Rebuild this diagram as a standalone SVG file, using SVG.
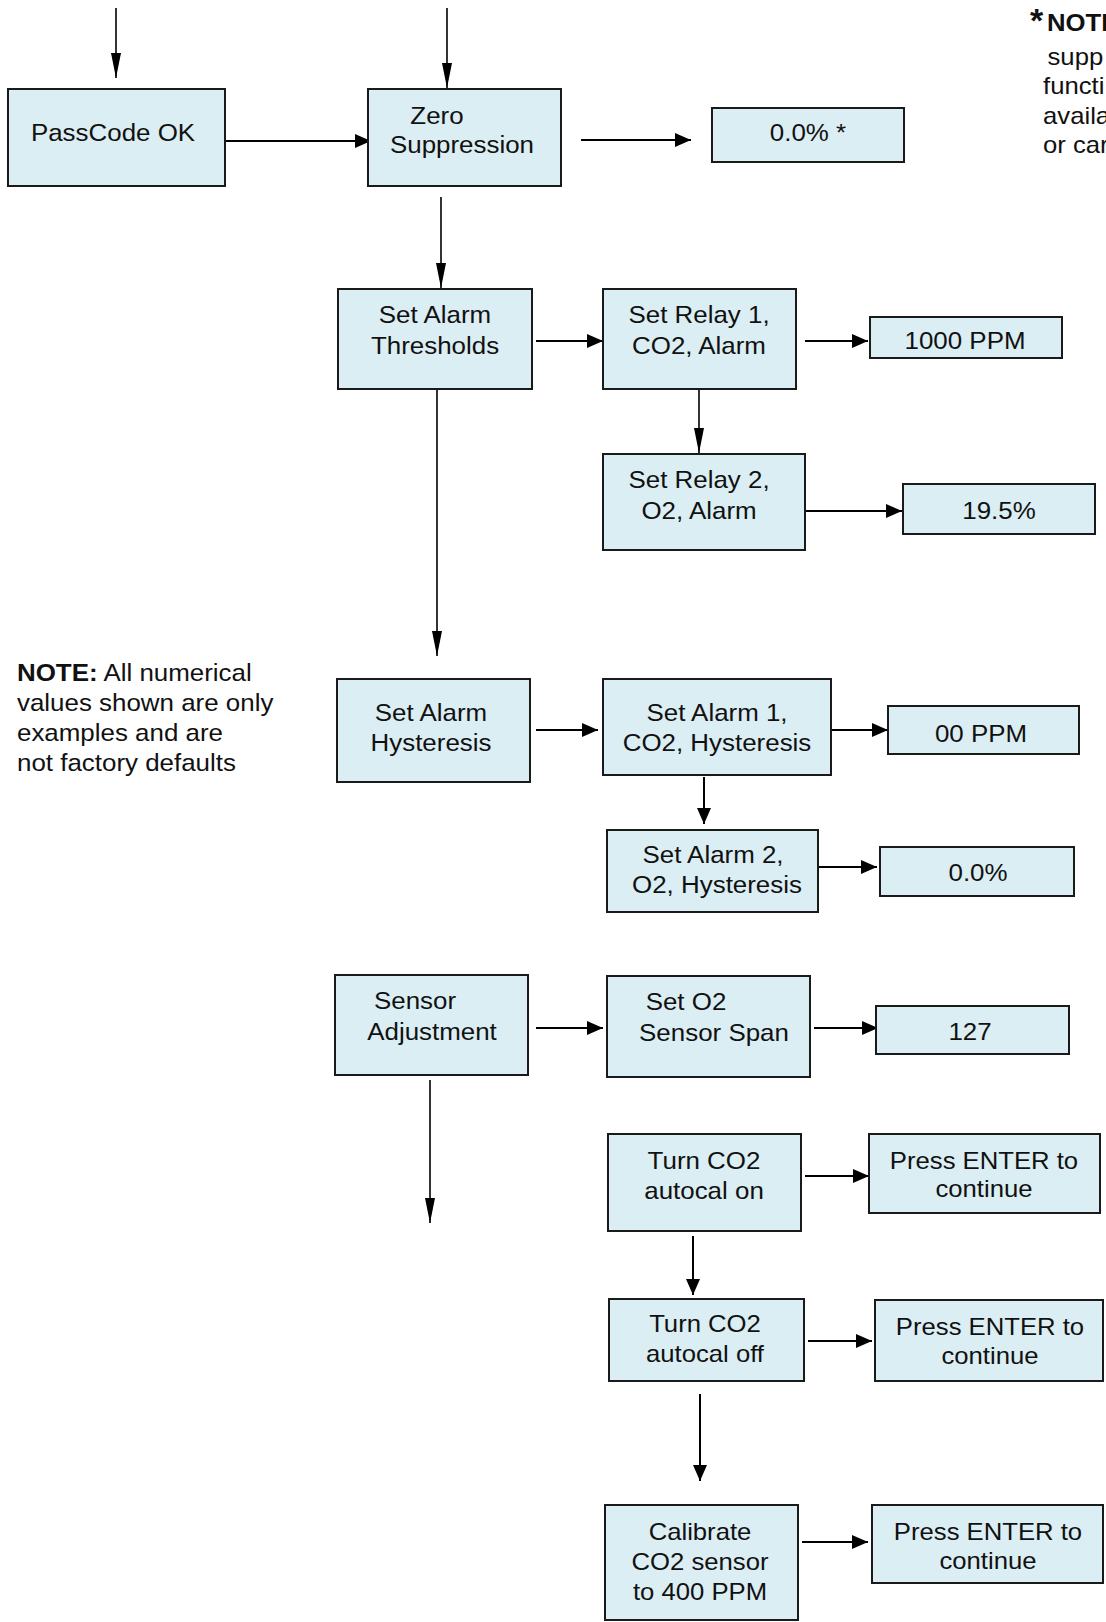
<svg xmlns="http://www.w3.org/2000/svg" width="1106" height="1622" viewBox="0 0 1106 1622">
<style>
.box{fill:#DBEEF3;stroke:#1a1a1a;stroke-width:2}
.t{font-family:"Liberation Sans",Arial,Helvetica,sans-serif;font-size:24px;fill:#111;text-anchor:middle}
.ts{font-family:"Liberation Sans",Arial,Helvetica,sans-serif;font-size:24px;fill:#111;text-anchor:start}
.c{stroke:#000;stroke-width:2;fill:none}
.cl{stroke:#000;stroke-width:1.6;fill:none;marker-end:url(#ahL)}
.cs{stroke:#000;stroke-width:2;fill:none;marker-end:url(#ahS)}
</style>
<defs>
<marker id="ahL" markerUnits="userSpaceOnUse" markerWidth="26" markerHeight="12" refX="25" refY="5.5" orient="auto" viewBox="0 0 26 12">
<path d="M0,0.5 L25,5.5 L0,10.5 z" fill="#000"/>
</marker>
<marker id="ahS" markerUnits="userSpaceOnUse" markerWidth="17" markerHeight="15" refX="16" refY="7" orient="auto" viewBox="0 0 17 15">
<path d="M0,0 L16,7 L0,14 z" fill="#000"/>
</marker>
</defs>
<rect width="1106" height="1622" fill="#fff"/>

<g id="connectors">
<line class="cl" x1="116" y1="8" x2="116" y2="78"/>
<line class="cl" x1="447" y1="8" x2="447" y2="88"/>
<line class="cs" x1="225" y1="141" x2="371" y2="141"/>
<line class="cs" x1="581" y1="140" x2="691" y2="140"/>
<line class="cl" x1="441" y1="197" x2="441" y2="288"/>
<line class="cs" x1="536" y1="341" x2="603" y2="341"/>
<line class="cs" x1="805" y1="341" x2="868" y2="341"/>
<line class="cl" x1="699" y1="389" x2="699" y2="453"/>
<line class="cs" x1="805" y1="511" x2="902" y2="511"/>
<line class="cl" x1="437" y1="389" x2="437" y2="656"/>
<line class="cs" x1="536" y1="730" x2="598" y2="730"/>
<line class="cs" x1="831" y1="730" x2="888" y2="730"/>
<line class="cs" x1="704" y1="777" x2="704" y2="824"/>
<line class="cs" x1="818" y1="867" x2="877" y2="867"/>
<line class="cs" x1="536" y1="1028" x2="603" y2="1028"/>
<line class="cs" x1="814" y1="1028" x2="878" y2="1028"/>
<line class="cl" x1="430" y1="1080" x2="430" y2="1223"/>
<line class="cs" x1="805" y1="1176" x2="869" y2="1176"/>
<line class="cs" x1="693" y1="1236" x2="693" y2="1295"/>
<line class="cs" x1="808" y1="1341" x2="872" y2="1341"/>
<line class="cs" x1="700" y1="1394" x2="700" y2="1481"/>
<line class="cs" x1="802" y1="1542" x2="868" y2="1542"/>
</g>

<g id="n-passcode">
<rect class="box" x="8" y="89" width="217" height="97"/>
<text class="t" transform="matrix(1.08 0 0 1 113 0)"><tspan x="0" y="141">PassCode OK</tspan></text>
</g>
<g id="n-zero">
<rect class="box" x="368" y="89" width="193" height="97"/>
<text class="t" transform="matrix(1.08 0 0 1 437 0)"><tspan x="0" y="124">Zero</tspan></text>
<text class="t" transform="matrix(1.08 0 0 1 462 0)"><tspan x="0" y="153">Suppression</tspan></text>
</g>
<g id="n-zero-val">
<rect class="box" x="712" y="108" width="192" height="54"/>
<text class="t" transform="matrix(1.08 0 0 1 808 0)"><tspan x="0" y="141">0.0% *</tspan></text>
</g>
<g id="note-star">
<text class="ts" x="1030" y="32" style="font-size:34px;font-weight:bold">*</text>
<text class="ts" transform="matrix(1.07 0 0 1 1047 0)"><tspan x="0" y="31" font-weight="bold">NOTE</tspan><tspan x="0.5" y="65">supp</tspan><tspan x="-3.7" y="94">functi</tspan><tspan x="-3.7" y="124">availa</tspan><tspan x="-3.7" y="153">or car</tspan></text>
</g>

<g id="n-thresholds">
<rect class="box" x="338" y="289" width="194" height="100"/>
<text class="t" transform="matrix(1.08 0 0 1 435 0)"><tspan x="0" y="323">Set Alarm</tspan><tspan x="0" y="354">Thresholds</tspan></text>
</g>
<g id="n-relay1">
<rect class="box" x="603" y="289" width="193" height="100"/>
<text class="t" transform="matrix(1.08 0 0 1 699 0)"><tspan x="0" y="323">Set Relay 1,</tspan><tspan x="0" y="354">CO2, Alarm</tspan></text>
</g>
<g id="n-relay1-val">
<rect class="box" x="870" y="317" width="192" height="41"/>
<text class="t" transform="matrix(1.08 0 0 1 965 0)"><tspan x="0" y="349">1000 PPM</tspan></text>
</g>
<g id="n-relay2">
<rect class="box" x="603" y="454" width="202" height="96"/>
<text class="t" transform="matrix(1.08 0 0 1 699 0)"><tspan x="0" y="488">Set Relay 2,</tspan><tspan x="0" y="519">O2, Alarm</tspan></text>
</g>
<g id="n-relay2-val">
<rect class="box" x="903" y="484" width="192" height="50"/>
<text class="t" transform="matrix(1.08 0 0 1 999 0)"><tspan x="0" y="519">19.5%</tspan></text>
</g>

<g id="note-left">
<text class="ts" transform="matrix(1.08 0 0 1 17 0)"><tspan x="0" y="681"><tspan font-weight="bold">NOTE:</tspan> All numerical</tspan><tspan x="0" y="711">values shown are only</tspan><tspan x="0" y="741">examples and are</tspan><tspan x="0" y="771">not factory defaults</tspan></text>
</g>

<g id="n-hysteresis">
<rect class="box" x="337" y="679" width="193" height="103"/>
<text class="t" transform="matrix(1.08 0 0 1 431 0)"><tspan x="0" y="721">Set Alarm</tspan><tspan x="0" y="751">Hysteresis</tspan></text>
</g>
<g id="n-alarm1">
<rect class="box" x="603" y="679" width="228" height="96"/>
<text class="t" transform="matrix(1.08 0 0 1 717 0)"><tspan x="0" y="721">Set Alarm 1,</tspan></text>
<text class="t" transform="matrix(1.08 0 0 1 717 0)"><tspan x="0" y="751">CO2, Hysteresis</tspan></text>
</g>
<g id="n-alarm1-val">
<rect class="box" x="888" y="706" width="191" height="48"/>
<text class="t" transform="matrix(1.08 0 0 1 981 0)"><tspan x="0" y="742">00 PPM</tspan></text>
</g>
<g id="n-alarm2">
<rect class="box" x="607" y="830" width="211" height="82"/>
<text class="t" transform="matrix(1.08 0 0 1 713 0)"><tspan x="0" y="863">Set Alarm 2,</tspan></text>
<text class="t" transform="matrix(1.08 0 0 1 717 0)"><tspan x="0" y="893">O2, Hysteresis</tspan></text>
</g>
<g id="n-alarm2-val">
<rect class="box" x="880" y="847" width="194" height="49"/>
<text class="t" transform="matrix(1.08 0 0 1 978 0)"><tspan x="0" y="881">0.0%</tspan></text>
</g>

<g id="n-sensor-adj">
<rect class="box" x="335" y="975" width="193" height="100"/>
<text class="t" transform="matrix(1.08 0 0 1 415 0)"><tspan x="0" y="1009">Sensor</tspan></text>
<text class="t" transform="matrix(1.08 0 0 1 432 0)"><tspan x="0" y="1040">Adjustment</tspan></text>
</g>
<g id="n-o2span">
<rect class="box" x="607" y="976" width="203" height="101"/>
<text class="t" transform="matrix(1.08 0 0 1 686 0)"><tspan x="0" y="1010">Set O2</tspan></text>
<text class="t" transform="matrix(1.08 0 0 1 714 0)"><tspan x="0" y="1041">Sensor Span</tspan></text>
</g>
<g id="n-o2span-val">
<rect class="box" x="876" y="1006" width="193" height="48"/>
<text class="t" transform="matrix(1.08 0 0 1 970 0)"><tspan x="0" y="1040">127</tspan></text>
</g>

<g id="n-autocal-on">
<rect class="box" x="608" y="1134" width="193" height="97"/>
<text class="t" transform="matrix(1.08 0 0 1 704 0)"><tspan x="0" y="1169">Turn CO2</tspan><tspan x="0" y="1199">autocal on</tspan></text>
</g>
<g id="n-enter1">
<rect class="box" x="869" y="1134" width="231" height="79"/>
<text class="t" transform="matrix(1.07 0 0 1 984 0)"><tspan x="0" y="1169">Press ENTER to</tspan><tspan x="0" y="1197">continue</tspan></text>
</g>
<g id="n-autocal-off">
<rect class="box" x="609" y="1299" width="195" height="82"/>
<text class="t" transform="matrix(1.07 0 0 1 705 0)"><tspan x="0" y="1332">Turn CO2</tspan><tspan x="0" y="1362">autocal off</tspan></text>
</g>
<g id="n-enter2">
<rect class="box" x="875" y="1300" width="228" height="81"/>
<text class="t" transform="matrix(1.07 0 0 1 990 0)"><tspan x="0" y="1335">Press ENTER to</tspan><tspan x="0" y="1364">continue</tspan></text>
</g>
<g id="n-calibrate">
<rect class="box" x="605" y="1505" width="193" height="115"/>
<text class="t" transform="matrix(1.07 0 0 1 700 0)"><tspan x="0" y="1540">Calibrate</tspan><tspan x="0" y="1570">CO2 sensor</tspan><tspan x="0" y="1600">to 400 PPM</tspan></text>
</g>
<g id="n-enter3">
<rect class="box" x="872" y="1505" width="231" height="78"/>
<text class="t" transform="matrix(1.07 0 0 1 988 0)"><tspan x="0" y="1540">Press ENTER to</tspan><tspan x="0" y="1569">continue</tspan></text>
</g>
</svg>
